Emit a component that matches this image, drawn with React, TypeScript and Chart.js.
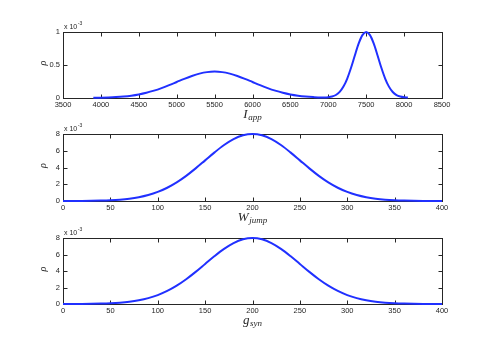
import React, { useEffect, useRef } from "react";
import { Chart, registerables } from "chart.js";

Chart.register(...registerables);

// Panel 1: rho vs I_app (values x 10^-3)
const iappX = [3900, 4000, 4100, 4200, 4300, 4400, 4500, 4600, 4700, 4800, 4900, 5000, 5100, 5200, 5300, 5400, 5500, 5600, 5700, 5800, 5900, 6000, 6100, 6200, 6300, 6400, 6500, 6600, 6700, 6800, 6900, 6950, 7000, 7050, 7100, 7150, 7200, 7250, 7300, 7350, 7400, 7450, 7500, 7550, 7600, 7650, 7700, 7750, 7800, 7850, 7900, 7950, 8000, 8050];
const iappY = [0.0024, 0.0044, 0.0079, 0.0136, 0.0225, 0.0356, 0.0541, 0.0792, 0.1112, 0.1501, 0.1947, 0.2426, 0.2905, 0.3341, 0.3692, 0.3921, 0.4, 0.3921, 0.3692, 0.3341, 0.2905, 0.2426, 0.1947, 0.1501, 0.1112, 0.0792, 0.0541, 0.0356, 0.0225, 0.014, 0.009, 0.009, 0.012, 0.022, 0.0455, 0.0925, 0.173, 0.2953, 0.458, 0.6445, 0.8226, 0.9524, 1.0, 0.9524, 0.8226, 0.6444, 0.4578, 0.295, 0.1724, 0.0914, 0.045, 0.022, 0.011, 0.006];

// Panel 2: rho vs W_jump
const wjumpX = [0, 10, 20, 30, 40, 50, 60, 70, 80, 90, 100, 110, 120, 130, 140, 150, 160, 170, 180, 190, 200, 210, 220, 230, 240, 250, 260, 270, 280, 290, 300, 310, 320, 330, 340, 350, 360, 370, 380, 390, 400];
const wjumpY = [0.0027, 0.0058, 0.0123, 0.0247, 0.0478, 0.0889, 0.1587, 0.2722, 0.4489, 0.7112, 1.0827, 1.583, 2.224, 3.0022, 3.8942, 4.8522, 5.8089, 6.6823, 7.3849, 7.8416, 8.0, 7.8416, 7.3849, 6.6823, 5.8089, 4.8522, 3.8942, 3.0022, 2.224, 1.583, 1.0827, 0.7112, 0.4489, 0.2722, 0.1587, 0.0889, 0.0478, 0.0247, 0.0123, 0.0058, 0.0027];

// Panel 3: rho vs g_syn
const gsynX = [0, 10, 20, 30, 40, 50, 60, 70, 80, 90, 100, 110, 120, 130, 140, 150, 160, 170, 180, 190, 200, 210, 220, 230, 240, 250, 260, 270, 280, 290, 300, 310, 320, 330, 340, 350, 360, 370, 380, 390, 400];
const gsynY = [0.0027, 0.0058, 0.0123, 0.0247, 0.0478, 0.0889, 0.1587, 0.2722, 0.4489, 0.7112, 1.0827, 1.583, 2.224, 3.0022, 3.8942, 4.8522, 5.8089, 6.6823, 7.3849, 7.8416, 8.0, 7.8416, 7.3849, 6.6823, 5.8089, 4.8522, 3.8942, 3.0022, 2.224, 1.583, 1.0827, 0.7112, 0.4489, 0.2722, 0.1587, 0.0889, 0.0478, 0.0247, 0.0123, 0.0058, 0.0027];

const W = 488;
const H = 345;
const LINE = "rgb(32,48,255)";
const INK = "#262626";
const TICKFONT = "7.5px 'Liberation Sans', Arial, sans-serif";

type Panel = {
  xs: number[]; ys: number[];
  xMin: number; xMax: number; xStep: number;
  yMax: number; yStep: number;
  top: number; bottom: number;
  main: string; sub: string;
};

const panels: Panel[] = [
  { xs: iappX, ys: iappY, xMin: 3500, xMax: 8500, xStep: 500, yMax: 1, yStep: 0.5, top: 32, bottom: 98, main: "I", sub: "app" },
  { xs: wjumpX, ys: wjumpY, xMin: 0, xMax: 400, xStep: 50, yMax: 8, yStep: 2, top: 134, bottom: 201, main: "W", sub: "jump" },
  { xs: gsynX, ys: gsynY, xMin: 0, xMax: 400, xStep: 50, yMax: 8, yStep: 2, top: 238, bottom: 304, main: "g", sub: "syn" },
];

const LEFT = 63;
const RIGHT = 442;
const XAXIS_H = 20;

function makeDecor(p: Panel) {
  return {
    id: "decor",
    beforeDatasetsDraw(chart: any) {
      const { ctx, chartArea: a, scales } = chart;
      ctx.save();
      ctx.strokeStyle = INK;
      ctx.lineWidth = 1;
      const l = Math.round(a.left) + 0.5, r = Math.round(a.right) + 0.5;
      const t = Math.round(a.top) + 0.5, b = Math.round(a.bottom) + 0.5;
      ctx.strokeRect(l, t, r - l, b - t);
      ctx.beginPath();
      const tl = 4;
      for (const tk of scales.x.ticks) {
        const px = Math.round(scales.x.getPixelForValue(tk.value)) + 0.5;
        ctx.moveTo(px, b); ctx.lineTo(px, b - tl);
        ctx.moveTo(px, t); ctx.lineTo(px, t + tl);
      }
      for (const tk of scales.y.ticks) {
        const py = Math.round(scales.y.getPixelForValue(tk.value)) + 0.5;
        ctx.moveTo(l, py); ctx.lineTo(l + tl, py);
        ctx.moveTo(r, py); ctx.lineTo(r - tl, py);
      }
      ctx.stroke();
      ctx.restore();
    },
    afterDraw(chart: any) {
      const { ctx, chartArea: a } = chart;
      ctx.save();
      ctx.fillStyle = INK;
      // x 10^-3 multiplier
      ctx.font = "7px 'Liberation Sans', Arial, sans-serif";
      ctx.textBaseline = "alphabetic";
      ctx.textAlign = "left";
      const mx = a.left + 1;
      const my = a.top - 3;
      ctx.fillText("x 10", mx, my);
      const w10 = ctx.measureText("x 10").width;
      ctx.font = "5px 'Liberation Sans', Arial, sans-serif";
      ctx.fillText("-3", mx + w10 + 0.5, my - 4);
      // rho label
      ctx.font = "italic 10px 'Liberation Serif', 'DejaVu Serif', serif";
      ctx.textAlign = "center";
      ctx.textBaseline = "middle";
      ctx.translate(43, (a.top + a.bottom) / 2 - 2);
      ctx.rotate(-Math.PI / 2);
      ctx.fillText("\u03c1", 0, 0);
      ctx.setTransform(1, 0, 0, 1, 0, 0);
      // x title with subscript
      ctx.textAlign = "left";
      ctx.textBaseline = "alphabetic";
      const mainFont = "italic 13px 'Liberation Serif', 'DejaVu Serif', serif";
      const subFont = "italic 9px 'Liberation Serif', 'DejaVu Serif', serif";
      ctx.font = mainFont;
      const mw = ctx.measureText(p.main).width;
      ctx.font = subFont;
      const sw = ctx.measureText(p.sub).width;
      const cx = (a.left + a.right) / 2;
      const x0 = cx - (mw + sw + 0.5) / 2;
      const base = a.bottom + 19.5;
      ctx.font = mainFont;
      ctx.fillText(p.main, x0, base);
      ctx.font = subFont;
      ctx.fillText(p.sub, x0 + mw + 0.5, base + 2.5);
      ctx.restore();
    },
  };
}

function PanelChart({ p }: { p: Panel }) {
  const ref = useRef<HTMLCanvasElement>(null);
  useEffect(() => {
    if (!ref.current) return;
    const data = p.xs.map((x, i) => ({ x, y: p.ys[i] }));
    const chart = new Chart(ref.current, {
      type: "line",
      data: {
        datasets: [
          {
            data,
            borderColor: LINE,
            borderWidth: 2,
            pointRadius: 0,
            fill: false,
            cubicInterpolationMode: "monotone",
            clip: false as any,
          },
        ],
      },
      options: {
        responsive: false,
        animation: false,
        devicePixelRatio: 1,
        layout: {
          padding: { left: 0, right: W - RIGHT, top: p.top, bottom: H - p.bottom - XAXIS_H },
        },
        plugins: { legend: { display: false }, tooltip: { enabled: false } },
        scales: {
          x: {
            type: "linear",
            min: p.xMin,
            max: p.xMax,
            grid: { display: false, drawTicks: false },
            border: { display: false },
            ticks: {
              stepSize: p.xStep,
              padding: 2,
              maxRotation: 0,
              autoSkip: false,
              color: INK,
              font: { family: "'Liberation Sans', Arial, sans-serif", size: 7.5 },
              callback: (v: any) => String(v),
            },
            afterFit: (s: any) => { s.height = XAXIS_H; },
          },
          y: {
            type: "linear",
            min: 0,
            max: p.yMax,
            grid: { display: false, drawTicks: false },
            border: { display: false },
            ticks: {
              stepSize: p.yStep,
              padding: 3,
              color: INK,
              font: { family: "'Liberation Sans', Arial, sans-serif", size: 7.5 },
              callback: (v: any) => String(v),
            },
            afterFit: (s: any) => { s.width = LEFT; },
          },
        },
      },
      plugins: [makeDecor(p)],
    } as any);
    return () => chart.destroy();
  }, [p]);
  return (
    <canvas
      ref={ref}
      width={W}
      height={H}
      style={{ position: "absolute", left: 0, top: 0, width: W, height: H }}
    />
  );
}

export default function App() {
  return (
    <div style={{ position: "absolute", left: 0, top: 0, width: W, height: H, background: "#fff" }}>
      {panels.map((p, i) => (
        <PanelChart key={i} p={p} />
      ))}
    </div>
  );
}
